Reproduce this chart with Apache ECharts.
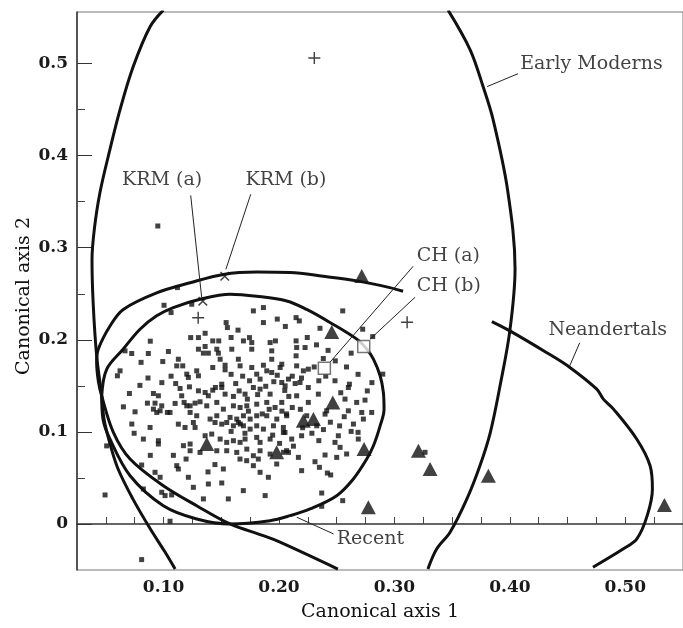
<!DOCTYPE html>
<html><head><meta charset="utf-8">
<script src="https://cdn.jsdelivr.net/npm/echarts@6/dist/echarts.min.js"></script>
<style>html,body{margin:0;padding:0;background:#fff}#c{width:683px;height:628px}</style>
</head><body><div id="c"></div>
<script>
// ---- axis ticks / labels ----
const xLabelValues = [0.1, 0.2, 0.3, 0.4, 0.5];
const xTickValues = [0.05, 0.075, 0.1, 0.125, 0.15, 0.175, 0.2, 0.225, 0.25, 0.275, 0.3, 0.325, 0.35, 0.375, 0.4, 0.425, 0.45, 0.475, 0.5, 0.525];
const yLabelValues = [0, 0.1, 0.2, 0.3, 0.4, 0.5];
const yMinorTickValues = [0.05, 0.15, 0.25, 0.35, 0.45];

// ---- ellipse outlines (traced) ----
const earlyModernsLeft = [[0.0998,0.558],[0.0883,0.540],[0.0738,0.497],[0.0623,0.450],[0.0536,0.407],[0.0449,0.360],[0.0400,0.320],[0.0380,0.287],[0.0390,0.240],[0.0420,0.183],[0.0464,0.139],[0.0484,0.114],[0.0536,0.087],[0.0605,0.060],[0.0735,0.027],[0.0883,-0.005],[0.1010,-0.030],[0.1100,-0.049]];
const earlyModernsRight = [[0.3465,0.558],[0.3656,0.515],[0.3768,0.475],[0.3855,0.439],[0.3980,0.363],[0.4045,0.277],[0.4000,0.210],[0.3915,0.150],[0.3830,0.099],[0.3740,0.063],[0.3627,0.027],[0.3482,-0.009],[0.3367,-0.027],[0.3290,-0.049]];
const neandertalUpper = [[0.3075,0.2527],[0.2960,0.2567],[0.2674,0.2640],[0.2382,0.2690],[0.2096,0.2730],[0.1807,0.2736],[0.1518,0.2710],[0.1230,0.2620],[0.0940,0.2510],[0.0651,0.2330],[0.0536,0.2150],[0.0435,0.1900],[0.0420,0.1760],[0.0435,0.1550],[0.0464,0.1390],[0.0565,0.0995],[0.0710,0.0705],[0.0998,0.0415],[0.1287,0.0198],[0.1576,0.0000],[0.1864,-0.0127],[0.2009,-0.0198],[0.2510,-0.0490]];
const neandertalRight = [[0.3844,0.2198],[0.4000,0.2097],[0.4320,0.1860],[0.4520,0.1700],[0.4753,0.1464],[0.4810,0.1356],[0.4898,0.1247],[0.5100,0.0920],[0.5215,0.0632],[0.5235,0.0380],[0.5190,0.0090],[0.5100,-0.0163],[0.4984,-0.0270],[0.4720,-0.0470]];
const recentOutline = [[0.0464,0.139],[0.0507,0.168],[0.0651,0.190],[0.0796,0.2115],[0.0940,0.226],[0.1084,0.235],[0.1316,0.244],[0.1576,0.2495],[0.1807,0.2473],[0.2067,0.2422],[0.2240,0.233],[0.2442,0.2188],[0.2674,0.2007],[0.2760,0.190],[0.2818,0.179],[0.2876,0.161],[0.2904,0.143],[0.2910,0.1247],[0.2876,0.1066],[0.2818,0.0849],[0.2760,0.0705],[0.2644,0.0488],[0.2500,0.0307],[0.2269,0.0163],[0.2096,0.009],[0.1922,0.0036],[0.1576,0.0],[0.1287,0.0054],[0.0998,0.0198],[0.0710,0.0524],[0.0536,0.092],[0.0475,0.114],[0.0464,0.139]];

// ---- specimens ----
const recentDots = [
[0.112,0.2567],[0.1004,0.2375],[0.1065,0.2296],[0.1244,0.2386],[0.1778,0.2314],[0.1865,0.235],[0.1542,0.2187],[0.1553,0.2133],[0.1865,0.2187],
[0.136,0.2071],[0.1235,0.2024],[0.1302,0.2024],[0.1426,0.1988],[0.1478,0.1988],[0.1692,0.1988],[0.1744,0.2024],[0.1764,0.197],[0.1923,0.197],[0.1969,0.1988],
[0.0666,0.188],[0.0724,0.1851],[0.0868,0.1851],[0.1042,0.1873],[0.1302,0.1898],[0.136,0.1927],[0.1388,0.1855],[0.1345,0.1855],[0.1461,0.1898],[0.1475,0.1855],[0.1591,0.1898],[0.1764,0.1898],[0.1937,0.188],
[0.1128,0.1789],[0.0993,0.1764],[0.149,0.1789],[0.1648,0.1789],[0.1663,0.1717],[0.1937,0.1789],
[0.1114,0.1717],[0.1166,0.1717],[0.1201,0.1627],[0.1215,0.1591],[0.1287,0.1663],[0.1302,0.1609],[0.1426,0.1699],[0.1533,0.1724],[0.1533,0.1674],[0.1764,0.1699],[0.1865,0.1724],[0.1894,0.1663],[0.1937,0.1645],[0.2024,0.1735],[0.201,0.1699],
[0.0623,0.1663],[0.06,0.1609],[0.1807,0.1627],[0.1836,0.1573],[0.2024,0.1536],[0.2053,0.15],[0.2082,0.1573],
[0.1143,0.1471],[0.1224,0.1489],[0.1302,0.1446],[0.136,0.1428],[0.1388,0.1392],[0.1426,0.1453],[0.1449,0.1482],[0.1504,0.1518],[0.1504,0.1482],[0.1533,0.141],[0.1605,0.1385],[0.1706,0.141],[0.1726,0.1356],[0.1778,0.1482],[0.1836,0.1464],[0.1923,0.141],
[0.0704,0.1417],[0.0912,0.1417],[0.0955,0.1392],[0.086,0.1312],[0.0926,0.1312],[0.0984,0.1283],[0.11,0.1309],[0.1056,0.1211],[0.1157,0.1392],[0.1178,0.132],[0.1201,0.1283],[0.123,0.1283],[0.1273,0.1312],[0.1316,0.1327],[0.1374,0.1283],[0.1461,0.132],[0.1518,0.1247],[0.1605,0.1283],[0.1663,0.1265],[0.1721,0.1283],[0.1807,0.1301],[0.1894,0.132],[0.1966,0.1265],[0.2024,0.132],
[0.0652,0.1272],[0.0753,0.1218],[0.0912,0.1247],[0.0941,0.1211],[0.097,0.1229],[0.1033,0.1211],[0.123,0.1211],[0.1287,0.1175],[0.1403,0.1139],[0.1461,0.1175],[0.1576,0.1157],[0.1634,0.1139],[0.1692,0.1175],[0.175,0.1139],[0.1807,0.1175],[0.1894,0.1175],[0.1981,0.1139],[0.2067,0.1175],
[0.1128,0.1084],[0.1186,0.1048],[0.1258,0.1102],[0.1273,0.1048],[0.1446,0.1102],[0.1504,0.1084],[0.1547,0.1102],[0.1605,0.1066],[0.1648,0.1102],[0.1692,0.1066],[0.175,0.103],[0.1807,0.1066],[0.1865,0.103],[0.1952,0.1066],[0.2038,0.1048],
[0.0883,0.1048],[0.0825,0.0922],[0.0955,0.0904],[0.0955,0.0868],[0.1172,0.085],[0.123,0.0868],[0.136,0.0958],[0.1417,0.0976],[0.149,0.0922],[0.1547,0.0886],[0.1605,0.0904],[0.1663,0.0886],[0.1706,0.0922],[0.1807,0.094],[0.1836,0.0886],[0.1923,0.0922],[0.2038,0.0994],
[0.123,0.0795],[0.1316,0.0777],[0.1461,0.0795],[0.1547,0.0795],[0.1634,0.0777],[0.1721,0.0813],[0.1778,0.0741],[0.1836,0.0795],[0.1923,0.0759],[0.2082,0.0777],
[0.2148,0.2241],[0.2176,0.2205],[0.2552,0.2314],[0.2725,0.2115],[0.2812,0.2035],[0.2148,0.1988],[0.2153,0.1916],[0.2226,0.1916],[0.2148,0.1826],[0.2384,0.1797],[0.2488,0.1771],[0.2153,0.1717],[0.2254,0.1681],[0.2211,0.1663],[0.2182,0.1536],[0.2254,0.1482],[0.2341,0.141],[0.2153,0.1392],[0.2572,0.1356],[0.2601,0.1482],[0.261,0.1518],[0.2254,0.132],[0.2673,0.132],[0.2717,0.1211],[0.2803,0.1211],[0.2731,0.1139],[0.2413,0.1229],[0.2399,0.1193],[0.2601,0.1229],[0.224,0.1175],[0.2327,0.1066],[0.2899,0.1627],
[0.081,0.064],[0.0926,0.0561],[0.097,0.0507],[0.1114,0.0633],[0.1128,0.0597],[0.1215,0.0507],[0.1388,0.0434],[0.1504,0.0445],[0.1258,0.0398],[0.0493,0.0315],[0.0825,0.038],[0.0984,0.0344],[0.1013,0.0308],[0.107,0.0315],[0.1345,0.0272],[0.1561,0.0272],[0.1908,0.0507],[0.1836,0.0561],[0.1691,0.0362],[0.188,0.0308],[0.1056,0.003],[0.1662,0.0705],[0.172,0.0687],[0.1821,0.0705],[0.1778,0.0633],[0.1518,0.0597],[0.0507,0.0848],
[0.2052,0.0994],[0.2196,0.0958],[0.211,0.0922],[0.2514,0.0958],[0.2485,0.0886],[0.2529,0.0832],[0.2586,0.076],[0.2687,0.0922],[0.2399,0.0749],[0.2168,0.0723],[0.2038,0.0778],[0.2066,0.0796],[0.25,0.0723],[0.2312,0.0676],[0.235,0.0615],[0.2419,0.0553],[0.2448,0.0532],[0.2196,0.0579],[0.198,0.0651],[0.237,0.0336],[0.237,0.0192],[0.2552,0.0253],[0.3265,0.0778],
[0.095,0.3236],[0.081,-0.0387],
[0.205,0.145],[0.2115,0.1605],[0.2195,0.1585],[0.214,0.1525],[0.2085,0.1385],[0.2115,0.1265],[0.2185,0.1245],[0.2065,0.1195],[0.2025,0.1225],[0.1955,0.1545],[0.1985,0.1615],[0.1885,0.1495],[0.1815,0.1405],[0.1745,0.1555],[0.1685,0.1605],[0.1625,0.1525],[0.1585,0.1625],[0.1655,0.1445],[0.1855,0.1195],[0.1915,0.1245],[0.1735,0.1225],[0.1665,0.1085],[0.1585,0.1005],[0.1705,0.0985],[0.1945,0.0965],[0.2005,0.0875],[0.2125,0.0845],[0.2205,0.1045],[0.2285,0.0985],[0.2345,0.0905],[0.2385,0.1025],[0.2445,0.1105],[0.2525,0.1065],[0.2565,0.1165],[0.2645,0.1085],[0.2625,0.1005],[0.2685,0.0995],[0.2535,0.1425],[0.2485,0.1555],[0.2405,0.1605],[0.2345,0.1555],[0.2305,0.1705],[0.2425,0.1885],[0.2325,0.1945],[0.2245,0.2025],[0.2355,0.2125],[0.2625,0.1855],[0.2585,0.1705],[0.2685,0.1625],[0.2765,0.1445],[0.2745,0.1345],[0.2805,0.1535],[0.1445,0.0645],[0.1385,0.0565],[0.1195,0.0705],[0.1085,0.0745],[0.0885,0.0745],[0.0745,0.0985],[0.0725,0.1085],[0.0795,0.1505],[0.0865,0.1585],[0.0985,0.1535],[0.1065,0.1605],[0.1105,0.1525],[0.0885,0.1985],[0.0805,0.1755],[0.1585,0.2025],[0.1645,0.2105],[0.2055,0.2145],[0.1985,0.2225]
];
const neandertalPoints = [[0.2717,0.2693],[0.2457,0.2086],[0.2466,0.132],[0.2211,0.112],[0.2298,0.1139],[0.198,0.0778],[0.1374,0.0868],[0.2737,0.0813],[0.3208,0.0795],[0.3309,0.0597],[0.3814,0.0524],[0.2774,0.0181],[0.5339,0.0206]];
const earlyModernPoints = [[0.2306,0.506],[0.130,0.224],[0.311,0.219]];
const krmPoints = [[0.134,0.242],[0.153,0.269]];
const chPoints = [[0.2393,0.169],[0.2734,0.1927]];

// ---- annotations ----
const annotationLabels = [
  {text:'Early Moderns', at:[0.4089,0.499], align:'left'},
  {text:'Neandertals', at:[0.4334,0.2106], align:'left'},
  {text:'Recent', at:[0.2500,-0.0163], align:'left'},
  {text:'KRM (a)', at:[0.0987,0.374], align:'center'},
  {text:'KRM (b)', at:[0.2060,0.374], align:'center'},
  {text:'CH (a)', at:[0.3193,0.2907], align:'left'},
  {text:'CH (b)', at:[0.3193,0.2580], align:'left'}
];
const leaderLines = [
  [[0.1235,0.3568],[0.1330,0.2462]],
  [[0.1755,0.3580],[0.1540,0.2766]],
  [[0.3162,0.2798],[0.2442,0.1757]],
  [[0.3179,0.2462],[0.2789,0.2007]],
  [[0.4071,0.4890],[0.3803,0.4750]],
  [[0.4605,0.1967],[0.4516,0.1710]],
  [[0.2154,0.0073],[0.2472,-0.0108]]
];

const FONT = 'DejaVu Serif';
const INK = '#111';
const PLUS = 'path://M4.4,0H5.6V4.4H10V5.6H5.6V10H4.4V5.6H0V4.4H4.4Z';

const chart = echarts.init(document.getElementById('c'), null, {renderer:'canvas'});

function curve(data){
  return {type:'line', data:data, showSymbol:false, smooth:0.35, clip:true,
    lineStyle:{color:INK, width:3}, z:2, silent:true, animation:false};
}
const series = [];
series.push(curve(earlyModernsLeft));
series.push(curve(earlyModernsRight));
series.push(curve(neandertalUpper));
series.push(curve(neandertalRight));
series.push(curve(recentOutline));
leaderLines.forEach(l => series.push({type:'line', data:l, showSymbol:false, lineStyle:{color:'#222', width:1}, z:3, silent:true}));
series.push({type:'scatter', data:recentDots, symbol:'rect', symbolSize:5, itemStyle:{color:INK}, z:4});
series.push({type:'scatter', data:neandertalPoints, symbol:'triangle', symbolSize:[15,14], itemStyle:{color:INK}, z:5});
series.push({type:'scatter', data:earlyModernPoints, symbol:PLUS, symbolSize:12, itemStyle:{color:INK}, z:5});
series.push({type:'scatter', data:krmPoints, symbol:PLUS, symbolSize:12, symbolRotate:45, itemStyle:{color:INK}, z:5});
series.push({type:'scatter', data:chPoints, symbol:'rect', symbolSize:12, itemStyle:{color:'#fff', borderColor:'#555', borderWidth:1.5}, z:6});
series.push({type:'scatter', symbolSize:0, z:7,
  data: annotationLabels.map(a => ({value:a.at, name:a.text,
    label:{show:true, position:[0,0], formatter:a.text, align:a.align, verticalAlign:'middle',
      fontFamily:FONT, fontSize:19, color:'#111'}}))
});

const axisFont = {fontFamily:FONT, fontSize:17, fontWeight:'bold', color:'#1a1a1a'};
chart.setOption({
  animation:false,
  backgroundColor:'#fff',
  grid:{left:77, right:-3, top:12, bottom:58, show:true, borderColor:'#777', borderWidth:1},
  xAxis:[
    {type:'value', min:0.025, max:0.55, position:'bottom',
     axisLine:{show:true, lineStyle:{color:'#333', width:1.5}},
     axisTick:{show:true, inside:true, length:7, customValues:xTickValues, lineStyle:{color:'#444', width:1}},
     axisLabel:Object.assign({customValues:xLabelValues, margin:9, formatter:v=>v.toFixed(2)}, axisFont),
     splitLine:{show:false}}
  ],
  yAxis:[
    {type:'value', min:-0.05, max:0.556, position:'left',
     axisLine:{show:true, lineStyle:{color:'#333', width:1.5}},
     axisTick:{show:true, inside:true, length:15, customValues:yLabelValues, lineStyle:{color:'#333', width:1}},
     axisLabel:Object.assign({customValues:yLabelValues, margin:9, formatter:v=> v===0?'0':v.toFixed(1)}, axisFont),
     splitLine:{show:false}},
    {type:'value', min:-0.05, max:0.556, position:'left',
     axisLine:{show:false},
     axisTick:{show:true, inside:true, length:8, customValues:yMinorTickValues, lineStyle:{color:'#444', width:1}},
     axisLabel:{show:false}, splitLine:{show:false}}
  ],
  graphic:[
    {type:'text', x:380, y:612, style:{text:'Canonical axis 1', font:'19px "DejaVu Serif"', fill:'#111', textAlign:'center', textVerticalAlign:'middle'}},
    {type:'text', x:24, y:296, rotation:Math.PI/2, style:{text:'Canonical axis 2', font:'19px "DejaVu Serif"', fill:'#111', textAlign:'center', textVerticalAlign:'middle'}}
  ],
  series:series
});
</script></body></html>
